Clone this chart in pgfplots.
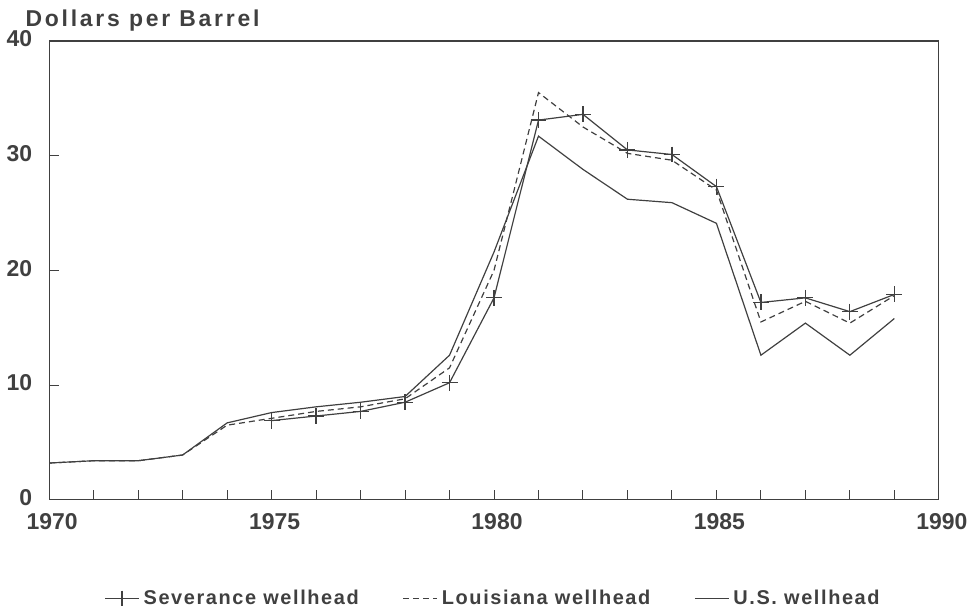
\documentclass[border=0pt]{standalone}
\usepackage{pgfplots}
\pgfplotsset{compat=1.18}
\usepackage{fontspec}
\setmainfont{Liberation Sans}
\newfontfamily\titlefont[LetterSpace=12]{Liberation Sans}
\newfontfamily\legfont[LetterSpace=8]{Liberation Sans}
\definecolor{ink}{gray}{0.25}
\begin{document}
\begin{tikzpicture}
\begin{axis}[
  name=main,
  scale only axis,
  width=446pt, height=230pt,
  xmin=1970, xmax=1990, ymin=0, ymax=40,
  xtick={1970,1975,1980,1985,1990},
  minor xtick={1971,1972,1973,1974,1976,1977,1978,1979,1981,1982,1983,1984,1986,1987,1988,1989},
  ytick={0,10,20,30,40},
  xtick pos=bottom, ytick pos=left,
  tick align=inside,
  major tick length=5pt, minor tick length=5pt,
  tick style={ink, line width=0.5pt},
  axis line style={ink, line width=0.6pt},
  /pgf/number format/1000 sep={},
  /pgf/number format/assume math mode=true,
  tick label style={font=\fontsize{11.5}{12}\selectfont\bfseries, text=ink},
  xticklabel style={yshift=-3.5pt, xshift=1.5pt},
  yticklabel style={xshift=-5pt, yshift=1pt},
  legend style={draw=none, at={(0.5,-0.178)}, anchor=north, font=\legfont\fontsize{10}{12}\selectfont\bfseries, text=ink, /tikz/every even column/.append style={column sep=20pt}},
  legend columns=3,
  legend cell align=left,
]
\addplot[ink, line width=0.6pt, mark=+, mark size=4pt, mark options={solid, line width=0.6pt}] coordinates {
(1975,6.9) (1976,7.3) (1977,7.7) (1978,8.5) (1979,10.2) (1980,17.6) (1981,33.1) (1982,33.6) (1983,30.5) (1984,30.1) (1985,27.3) (1986,17.2) (1987,17.6) (1988,16.4) (1989,17.9)};
\addlegendentry{Severance wellhead}
\addplot[ink, line width=0.6pt, densely dashed] coordinates {
(1970,3.2) (1971,3.4) (1972,3.4) (1973,3.9) (1974,6.5) (1975,7.1) (1976,7.7) (1977,8.1) (1978,8.8) (1979,11.5) (1980,20.0) (1981,35.5) (1982,32.5) (1983,30.2) (1984,29.6) (1985,27.0) (1986,15.5) (1987,17.3) (1988,15.4) (1989,17.8)};
\addlegendentry{Louisiana wellhead}
\addplot[ink, line width=0.6pt] coordinates {
(1970,3.2) (1971,3.4) (1972,3.4) (1973,3.9) (1974,6.7) (1975,7.6) (1976,8.1) (1977,8.5) (1978,9.0) (1979,12.6) (1980,21.6) (1981,31.7) (1982,28.8) (1983,26.2) (1984,25.9) (1985,24.1) (1986,12.6) (1987,15.4) (1988,12.6) (1989,15.8)};
\addlegendentry{U.S. wellhead}
\end{axis}
\node[anchor=base west, font=\titlefont\fontsize{11.5}{12}\selectfont\bfseries, text=ink, inner sep=0pt] (title) at ([xshift=-12pt, yshift=7pt]main.north west) {Dollars per Barrel};
\path ([yshift=5pt]title.north);
\end{tikzpicture}
\end{document}
